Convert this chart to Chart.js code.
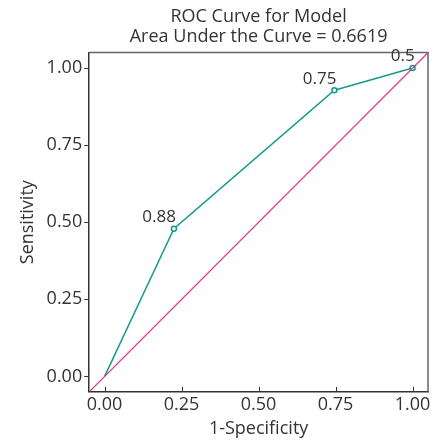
<!DOCTYPE html>
<html>
<head>
<meta charset="utf-8">
<script src="https://cdn.jsdelivr.net/npm/chart.js@4"></script>
<style>
  html, body { margin: 0; padding: 0; background: #fff; }
  #wrap { width: 443px; height: 442px; }
</style>
</head>
<body>
<div id="wrap"><canvas id="graph"></canvas></div>
<script>
// ROC points
const fpr = [0, 0.225, 0.746, 1];
const tpr = [0, 0.479, 0.928, 1];
const cutoffs = ["", "0.88", "0.75", "0.5"];
const diagX = [-0.05, 1.05];
const diagY = [-0.05, 1.05];
const tickVals = [0, 0.25, 0.5, 0.75, 1];
const titleLines = ["ROC Curve for Model", "Area Under the Curve = 0.6619"];

const TEAL = "#159a8c";
const PINK = "#e8297f";
const TEXT = "#333333";
const FONT = "'Open Sans', 'Noto Sans', sans-serif";

Chart.defaults.font.family = FONT;
Chart.defaults.color = TEXT;

let roc = fpr.map((x, i) => ({x: x, y: tpr[i]}));
let diag = diagX.map((x, i) => ({x: x, y: diagY[i]}));

// box, inward x ticks and cutoff labels
const extras = {
    id: "extras",
    afterDatasetsDraw(chart) {
        let ctx = chart.ctx;
        let a = chart.chartArea;
        let xs = chart.scales.x;
        ctx.save();
        ctx.strokeStyle = "#666";
        ctx.lineWidth = 1.5;
        ctx.beginPath();
        ctx.moveTo(a.left, a.top);
        ctx.lineTo(a.right, a.top);
        ctx.lineTo(a.right, a.bottom);
        ctx.stroke();

        ctx.strokeStyle = "#333";
        ctx.lineWidth = 1;
        tickVals.forEach(v => {
            let px = Math.round(xs.getPixelForValue(v)) + 0.5;
            ctx.beginPath();
            ctx.moveTo(px, a.bottom);
            ctx.lineTo(px, a.bottom - 5);
            ctx.stroke();
        });

        let meta = chart.getDatasetMeta(1);
        ctx.fillStyle = TEXT;
        ctx.font = "17px " + FONT;
        ctx.textAlign = "right";
        ctx.textBaseline = "bottom";
        meta.data.forEach((pt, i) => {
            if (!cutoffs[i]) return;
            ctx.fillText(cutoffs[i], pt.x + 2, pt.y - 3);
        });
        ctx.restore();
    }
};

var chart = new Chart(document.getElementById("graph"), {
    type: "scatter",
    data: {
        datasets: [
            {
                data: diag,
                showLine: true,
                borderColor: PINK,
                borderWidth: 1.2,
                pointRadius: 0
            },
            {
                data: roc,
                showLine: true,
                borderColor: TEAL,
                borderWidth: 1.5,
                pointRadius: fpr.map((x, i) => i === 0 ? 0 : 2.5),
                pointBackgroundColor: "#fff",
                pointBorderColor: TEAL,
                pointBorderWidth: 1.5
            }
        ]
    },
    options: {
        responsive: true,
        maintainAspectRatio: false,
        animation: false,
        layout: { padding: { top: 7, right: 15, left: 17, bottom: 2 } },
        plugins: {
            legend: { display: false },
            tooltip: { enabled: false },
            title: {
                display: true,
                text: titleLines,
                fullSize: false,
                color: TEXT,
                font: { size: 18, weight: "normal", lineHeight: 1.1 },
                padding: { top: 0, bottom: 6 }
            }
        },
        scales: {
            x: {
                type: "linear",
                min: -0.05,
                max: 1.05,
                afterBuildTicks: s => { s.ticks = tickVals.map(v => ({value: v})); },
                ticks: {
                    color: TEXT,
                    font: { size: 18 },
                    padding: 2,
                    callback: v => v.toFixed(2)
                },
                grid: { drawOnChartArea: false, drawTicks: false },
                border: { color: "#333", width: 1.5 },
                title: {
                    display: true,
                    text: "1-Specificity",
                    color: TEXT,
                    font: { size: 18 },
                    padding: { top: 1, bottom: 0 }
                }
            },
            y: {
                type: "linear",
                min: -0.05,
                max: 1.05,
                afterBuildTicks: s => { s.ticks = tickVals.map(v => ({value: v})); },
                ticks: {
                    color: TEXT,
                    font: { size: 18 },
                    padding: 2,
                    callback: v => v.toFixed(2)
                },
                grid: { drawOnChartArea: false, drawTicks: true, tickLength: 5, color: "#333" },
                border: { color: "#333", width: 1.5 },
                title: {
                    display: true,
                    text: "Sensitivity",
                    color: TEXT,
                    font: { size: 18 },
                    padding: { top: 0, bottom: 6 }
                }
            }
        }
    },
    plugins: [extras]
});
</script>
</body>
</html>
